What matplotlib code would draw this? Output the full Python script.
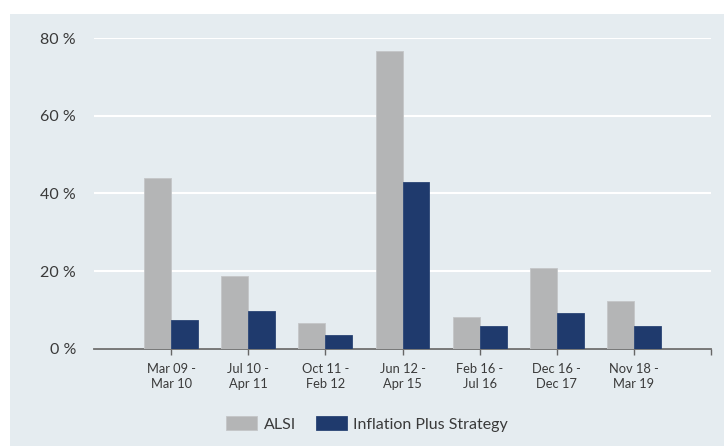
import matplotlib.pyplot as plt
from matplotlib.patches import Rectangle
import numpy as np

periods = ["Mar 09 -\nMar 10", "Jul 10 -\nApr 11", "Oct 11 -\nFeb 12", "Jun 12 -\nApr 15",
           "Feb 16 -\nJul 16", "Dec 16 -\nDec 17", "Nov 18 -\nMar 19"]
alsi = [44.0, 18.6, 6.5, 76.6, 8.1, 20.9, 12.4]
inflation_plus = [7.3, 9.8, 3.6, 42.8, 5.8, 9.1, 5.8]
yticks = [0, 20, 40, 60, 80]

plt.rcParams['font.family'] = ['Lato', 'DejaVu Sans']
bg = '#e5ecf0'
txt = '#3a3a3a'

W, H = 724, 446
f = plt.figure(figsize=(W / 100, H / 100), dpi=100)
f.patch.set_facecolor('white')
f.patches.append(Rectangle((10 / W, 0), 1 - 10 / W, 1 - 14 / H, transform=f.transFigure,
                           facecolor=bg, edgecolor='none', zorder=-10))

ax = f.add_axes((94 / W, 1 - 348.7 / H, (711 - 94) / W, (348.7 - 38) / H))
ax.set_facecolor('none')

x = np.arange(len(periods))
w = 0.35
ax.bar(x - w / 2, alsi, w, color='#b4b5b6', edgecolor='#c4c6c8', linewidth=0.6,
       label='ALSI', zorder=3)
ax.bar(x + w / 2, inflation_plus, w, color='#1f3a6d', edgecolor='#2a4575', linewidth=0.6,
       label='Inflation Plus Strategy', zorder=3)

ax.set_xlim(-1, 7)
ax.set_ylim(0, 80)
ax.set_yticks(yticks)
ax.set_yticklabels([f"{v} %" for v in yticks], fontsize=11.5, color=txt)
ax.tick_params(axis='y', length=0, pad=13)
ax.yaxis.grid(True, color='white', linewidth=1.5, zorder=0)
ax.set_axisbelow(True)

ax.set_xticks(list(x) + [7])
ax.set_xticklabels(periods + [''], fontsize=9.3, color=txt, linespacing=1.35)
ax.tick_params(axis='x', length=4, width=1, color='#666666', pad=6)

for s in ['top', 'right', 'left']:
    ax.spines[s].set_visible(False)
ax.spines['bottom'].set_color('#6e6e6e')
ax.spines['bottom'].set_linewidth(1.3)

leg = f.legend(loc='center', bbox_to_anchor=(367 / W, 1 - 424 / H), ncol=2, frameon=False,
               fontsize=11.5, handlelength=1.94, handleheight=0.9, handletextpad=0.38,
               columnspacing=1.25, labelcolor=txt)

f.savefig('out.png', dpi=100, facecolor='white')
